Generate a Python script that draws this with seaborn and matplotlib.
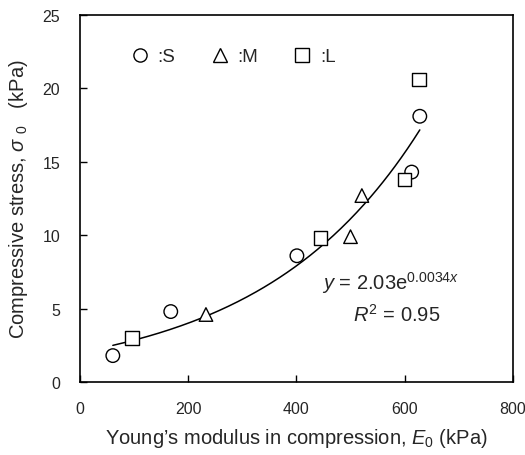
import numpy as np
import pandas as pd
import seaborn as sns
import matplotlib.pyplot as plt
from matplotlib.lines import Line2D

# data
E0 = [61, 168, 401, 613, 628,      # S
      233, 500, 521,               # M
      96, 445, 600, 627]           # L
sigma0 = [1.8, 4.8, 8.6, 14.3, 18.1,
          4.6, 9.9, 12.7,
          3.0, 9.8, 13.8, 20.6]
size_class = ['S'] * 5 + ['M'] * 3 + ['L'] * 4

# exponential trend line given on the chart: y = 2.03 e^(0.0034 x)
fit_a = 2.03
fit_b = 0.0034
fit_r2 = 0.95

x_ticks = [0, 200, 400, 600, 800]
y_ticks = [0, 5, 10, 15, 20, 25]

df = pd.DataFrame({'E0': E0, 'sigma0': sigma0, 'size': size_class})

xfit = np.linspace(min(E0), max(E0), 200)
df_fit = pd.DataFrame({'E0': xfit, 'sigma0': fit_a * np.exp(fit_b * xfit)})

sns.set_style("ticks")
plt.rcParams['font.family'] = ['Liberation Sans', 'DejaVu Sans']
plt.rcParams['mathtext.fontset'] = 'custom'
plt.rcParams['mathtext.rm'] = 'Liberation Sans'
plt.rcParams['mathtext.it'] = 'Liberation Sans:italic'

fig = plt.figure(figsize=(5.25, 4.56), dpi=100)
ax = fig.add_axes([0.152, 0.160, 0.825, 0.805])

sns.lineplot(data=df_fit, x='E0', y='sigma0', color='black', lw=1.1, ax=ax)
sns.scatterplot(data=df, x='E0', y='sigma0', style='size',
                markers={'S': 'o', 'M': '^', 'L': 's'},
                facecolor='white', edgecolor='black', linewidth=1.0,
                s=95, ax=ax, legend=False, zorder=3)

# legend: open markers followed by ":S", ":M", ":L"
mk = {'S': 'o', 'M': '^', 'L': 's'}
handles = [Line2D([], [], marker=mk[k], ls='none', markersize=9.5,
                  markerfacecolor='white', markeredgecolor='black', markeredgewidth=1.0)
           for k in ['S', 'M', 'L']]
ax.legend(handles, [':S', ':M', ':L'], ncol=3, frameon=False, loc='center left',
          bbox_to_anchor=(0.117, 0.886), borderpad=0, borderaxespad=0,
          handlelength=1.0, handletextpad=0.45, columnspacing=1.85, fontsize=13.5)

ax.text(0.717, 0.272, r'$y$ = 2.03e$^{0.0034\mathit{x}}$', transform=ax.transAxes,
        ha='center', va='center', fontsize=14.5)
ax.text(0.732, 0.185, r'$R^2$ = %.2f' % fit_r2, transform=ax.transAxes,
        ha='center', va='center', fontsize=14.5)

ax.set_xlim(0, 800)
ax.set_ylim(0, 25)
ax.set_xticks(x_ticks)
ax.set_yticks(y_ticks)
ax.tick_params(direction='in', length=5, width=1, pad=14, labelsize=11.5, color='black')
for sp in ax.spines.values():
    sp.set_visible(True)
    sp.set_linewidth(1.2)
    sp.set_color('black')

ax.set_xlabel(r"Young’s modulus in compression, $E_0$ (kPa)", fontsize=14.5, labelpad=7)
ax.set_ylabel(r"Compressive stress, $\sigma$ $_{0}$   (kPa)", fontsize=14.5, labelpad=9)

fig.savefig('out.png', dpi=100)
